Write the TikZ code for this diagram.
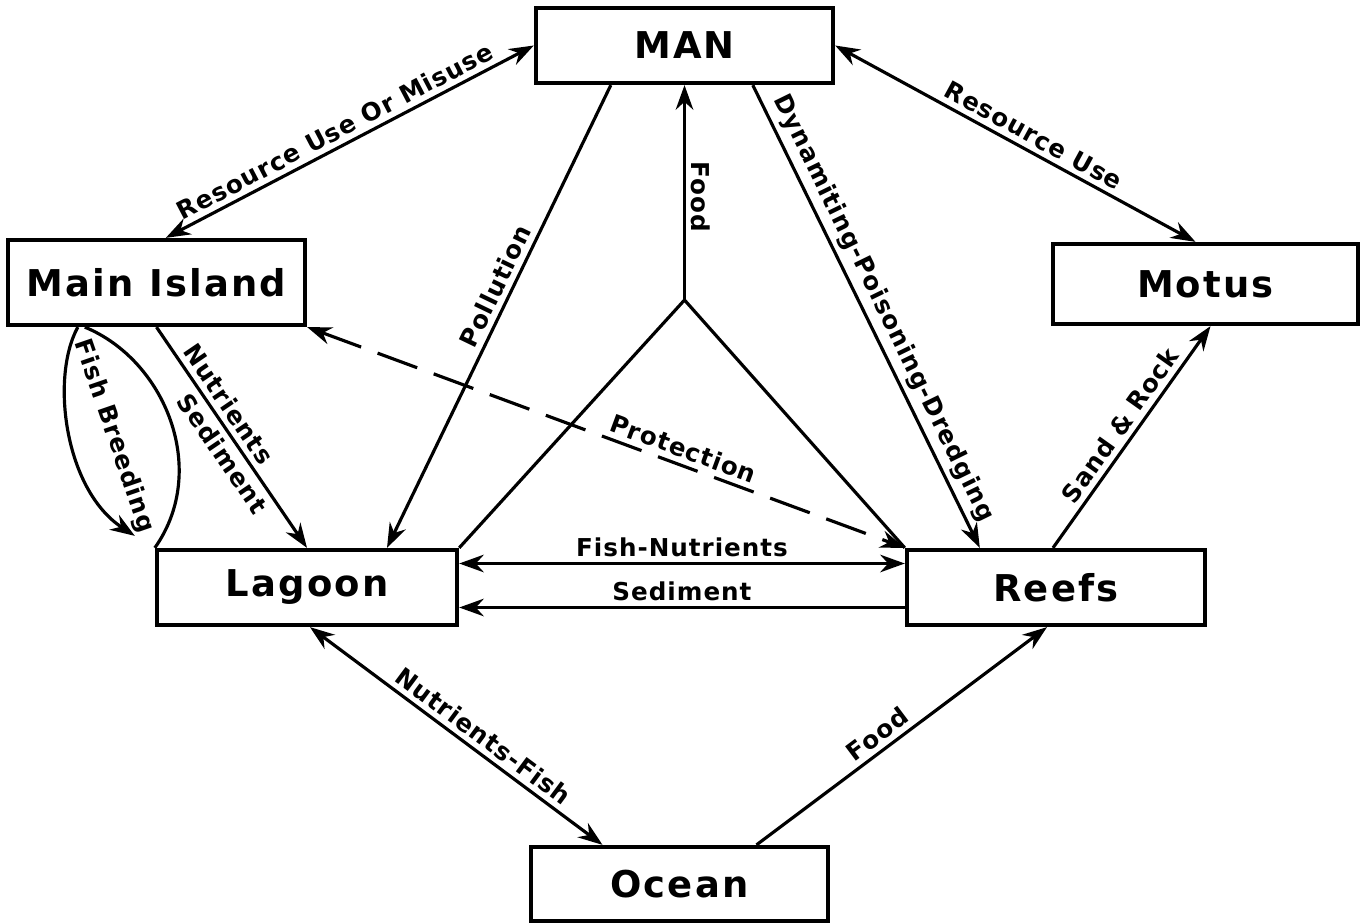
\documentclass[tikz,border=0pt]{standalone}
\usepackage{fontspec}
\setmainfont{DejaVu Sans}
\newfontfamily\boxfont[LetterSpace=6]{DejaVu Sans}
\newfontfamily\edgefont[LetterSpace=4]{DejaVu Sans}
\usetikzlibrary{arrows.meta,calc}

\begin{document}
\begin{tikzpicture}[x=0.01cm,y=-0.01cm,line width=0.9pt,
    >={Stealth[length=7pt,width=5pt]},
    place/.style={draw,line width=1.2pt,minimum width=2.97cm,minimum height=0.8cm,
        inner sep=0pt,font=\boxfont\bfseries\fontsize{10.5}{12}\selectfont},
    lbl/.style={font=\edgefont\bfseries\fontsize{7}{8}\selectfont,inner sep=1.5pt}]
    \useasboundingbox (0,0) rectangle (1369,924);

    \node[place,minimum height=0.75cm] (man) at (684.5,45.5) {MAN};
    \node[place,minimum height=0.85cm] (mi) at (156.5,282.5) {Main Island};
    \node[place,minimum width=3.05cm] (motus) at (1205.5,284) {Motus};
    \node[place,minimum width=3cm,minimum height=0.75cm] (lagoon) at (307,587.5) {Lagoon};
    \node[place,minimum width=2.98cm,minimum height=0.75cm] (reefs) at (1056,587.5) {Reefs};
    \node[place,minimum height=0.74cm] (ocean) at (679.5,884) {Ocean};

    \draw[<->] ($(mi.north west)+(160,0)$) -- node[lbl,sloped,above,pos=0.48] {Resource Use Or Misuse} (man.west);
    \draw[<->] (man.east) -- node[lbl,sloped,above,pos=0.53] {Resource Use} ($(motus.north)+(-10,0)$);

    \draw[<-] ($(lagoon.north)+(80,0)$) -- node[lbl,sloped,above,pos=0.55] {Pollution} ($(man.south west)+(77,0)$);
    \draw[->] ($(man.south west)+(219,0)$) -- node[lbl,sloped,above,pos=0.5] {Dynamiting-Poisoning-Dredging} ($(reefs.north west)+(75,0)$);

    \coordinate (fork) at (684.5,300);
    \draw[<-] (man.south) -- node[lbl,rotate=-90,anchor=south,pos=0.52] {Food} (fork);
    \draw (lagoon.north east) -- (fork) -- (reefs.north west);

    \draw[<->,dash pattern=on 12pt off 5pt] (mi.south east) -- node[lbl,sloped,above,pos=0.62] {Protection} (reefs.north west);

    \draw[->] (mi.south) -- node[lbl,sloped,above,pos=0.39] {Nutrients} node[lbl,sloped,below,pos=0.53] {Sediment} (lagoon.north);

    \draw[->] ($(mi.south west)+(72,0)$) .. controls (50,378) and (65,490) .. ($(lagoon.north west)+(-20,-12)$);
    \draw (lagoon.north west) .. controls (210,470) and (165,360) .. ($(mi.south west)+(79,0)$);
    \node[lbl,rotate=-71] (breed) at (114,436) {Fish Breeding};

    \draw[<->] ($(lagoon.east)+(0,-24)$) -- node[lbl,above] {Fish-Nutrients} ($(reefs.west)+(0,-24)$);
    \draw[<-] ($(lagoon.east)+(0,20)$) -- node[lbl,above] {Sediment} ($(reefs.west)+(0,20)$);

    \draw[<->] ($(lagoon.south)+(3,0)$) -- node[lbl,sloped,above,pos=0.56] {Nutrients-Fish} ($(ocean.north)+(-77,0)$);
    \draw[->] ($(ocean.north)+(77,0)$) -- node[lbl,sloped,above,pos=0.45] {Food} ($(reefs.south)+(-9,0)$);
    \draw[->] ($(reefs.north)+(-3,0)$) -- node[lbl,sloped,above,pos=0.51] {Sand \& Rock} ($(motus.south)+(5,0)$);
\end{tikzpicture}
\end{document}
